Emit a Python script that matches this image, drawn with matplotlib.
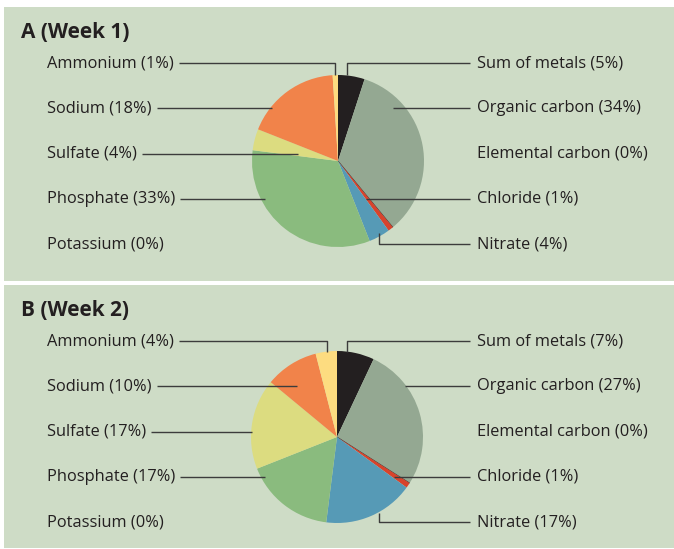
import numpy as np
import matplotlib.pyplot as plt
from matplotlib.patches import Rectangle

# components, clockwise from 12 o'clock
components = ["Sum of metals", "Organic carbon", "Elemental carbon", "Chloride",
              "Nitrate", "Potassium", "Phosphate", "Sulfate", "Sodium", "Ammonium"]
week1 = [5, 34, 0, 1, 4, 0, 33, 4, 18, 1]
week2 = [7, 27, 0, 1, 17, 0, 17, 17, 10, 4]
titles = ["A (Week 1)", "B (Week 2)"]

colors = ["#231f20", "#94a892", "#3a3a3a", "#d8432c", "#569ab6", "#5aa0a8",
          "#8abb7e", "#dcdc80", "#f1834a", "#fddc80"]

left_labels = ["Ammonium", "Sodium", "Sulfate", "Phosphate", "Potassium"]
right_labels = ["Sum of metals", "Organic carbon", "Elemental carbon", "Chloride", "Nitrate"]

W, H = 674, 549
BG = "#cedcc6"
LINE = "#3c3c3c"
FONT = "Open Sans"
FS = 11.8

# layout (pixels): panel top/bottom, pie center, leader anchors relative to center
panels = [
    dict(top=7, bottom=281, cx=338, cy=161, r=86,
         anchors={"Ammonium": ("v", -3, -86), "Sodium": ("h", -66), "Sulfate": ("h", -40),
                  "Phosphate": ("h", -73), "Sum of metals": ("v", 9, -86),
                  "Organic carbon": ("h", 55), "Chloride": ("h", 28), "Nitrate": ("v", 41, 72)}),
    dict(top=285, bottom=548, cx=337, cy=437, r=86,
         anchors={"Ammonium": ("v", -10, -85), "Sodium": ("h", -40), "Sulfate": ("h", -85),
                  "Phosphate": ("h", -72), "Sum of metals": ("v", 10, -85),
                  "Organic carbon": ("h", 68), "Chloride": ("h", 57), "Nitrate": ("v", 42, 76)}),
]

fig = plt.figure(figsize=(W / 100, H / 100), dpi=100)

def pixel_axes(z):
    ax = fig.add_axes([0, 0, 1, 1], zorder=z)
    ax.set_xlim(0, W)
    ax.set_ylim(H, 0)
    ax.axis("off")
    ax.patch.set_visible(False)
    return ax

back = pixel_axes(0)
front = pixel_axes(5)

for p, vals, title in zip(panels, [week1, week2], titles):
    back.add_patch(Rectangle((4, p["top"]), W - 4, p["bottom"] - p["top"],
                             facecolor=BG, edgecolor="none"))
    front.text(21, p["top"] + 25, title, fontsize=15, fontweight="bold",
               family=FONT, color="#231f20", va="center", ha="left")

    cx, cy, r = p["cx"], p["cy"], p["r"]
    pad = 4
    pax = fig.add_axes([(cx - r - pad) / W, (H - cy - r - pad) / H,
                        2 * (r + pad) / W, 2 * (r + pad) / H], zorder=2)
    wedges, _ = pax.pie(vals, colors=colors, startangle=90, counterclock=False,
                        wedgeprops=dict(linewidth=0))
    # zero-width elemental carbon wedge shows as a thin dark radius
    wedges[2].set_edgecolor("#3a3a3a")
    wedges[2].set_linewidth(0.6)
    lim = (r + pad) / r
    pax.set_xlim(-lim, lim)
    pax.set_ylim(-lim, lim)
    pax.axis("off")

    rows = [p["top"] + 56 + 45.3 * i for i in range(5)]
    pct = dict(zip(components, vals))

    for name, y in zip(left_labels, rows):
        t = front.text(47, y, f"{name} ({pct[name]}%)", fontsize=FS, family=FONT,
                       color="#231f20", va="center", ha="left")
        fig.canvas.draw()
        x0 = t.get_window_extent().x1 + 5
        a = p["anchors"].get(name)
        if a is None:
            continue
        if a[0] == "h":
            front.plot([x0, cx + a[1]], [y, y], color=LINE, lw=1.0, solid_capstyle="butt")
        else:
            front.plot([x0, cx + a[1], cx + a[1]], [y, y, cy + a[2]], color=LINE, lw=1.0,
                       solid_capstyle="butt")

    for name, y in zip(right_labels, rows):
        front.text(477, y, f"{name} ({pct[name]}%)", fontsize=FS, family=FONT,
                   color="#231f20", va="center", ha="left")
        a = p["anchors"].get(name)
        if a is None:
            continue
        if a[0] == "h":
            front.plot([cx + a[1], 470], [y, y], color=LINE, lw=1.0, solid_capstyle="butt")
        else:
            front.plot([cx + a[1], cx + a[1], 470], [cy + a[2], y, y], color=LINE, lw=1.0,
                       solid_capstyle="butt")

fig.savefig("out.png", dpi=100, facecolor="white")
